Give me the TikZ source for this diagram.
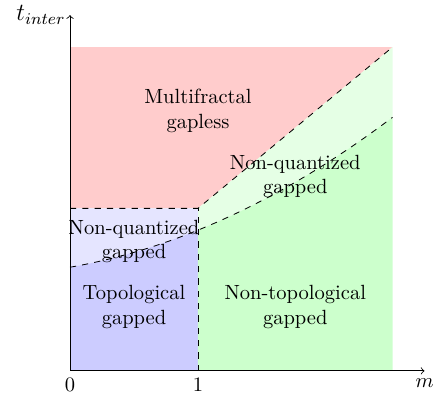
\documentclass[tikz,border=0pt]{standalone}
\usepackage{amsmath}
\usepackage{amssymb}
\usepackage{tikz}
\usetikzlibrary{calc}
\usepackage{xcolor}

\begin{document}
\begin{tikzpicture}[x=2.19cm,y=2.19cm,
  fase/.style={align=center},
  fronteira/.style={dashed}]
\useasboundingbox (-0.547,-0.195) rectangle (2.844,2.898);
% Regioes
\fill[red!20] (0,1.27) -- (1,1.27) -- (2.52,2.53) -- (0,2.53) -- cycle;
\fill[green!10] (1,1.27) -- (2.52,2.53) -- (2.52,1.98)
  -- plot[domain=2.52:1,samples=40] (\x,{0.81+0.175*\x+0.115*\x*\x}) -- cycle;
\fill[blue!10] (0,1.27) -- (1,1.27)
  -- plot[domain=1:0,samples=20] (\x,{0.81+0.175*\x+0.115*\x*\x}) -- cycle;
\fill[blue!20] plot[domain=0:1,samples=20] (\x,{0.81+0.175*\x+0.115*\x*\x})
  -- (1,0) -- (0,0) -- cycle;
\fill[green!20] plot[domain=1:2.52,samples=40] (\x,{0.81+0.175*\x+0.115*\x*\x})
  -- (2.52,0) -- (1,0) -- cycle;
% Fronteiras
\draw[fronteira] (0,1.27) -- (1,1.27) -- (2.52,2.53);
\draw[fronteira] (1,0) -- (1,1.27);
\draw[fronteira] plot[domain=0:2.52,samples=60] (\x,{0.81+0.175*\x+0.115*\x*\x});
% Eixos
\draw[->] (0,0) -- (2.77,0) node[below] (mlab) {$m$};
\draw[->] (0,0) -- (0,2.78) node[left,font=\large,inner sep=2pt] (tlab) {$t_{inter}$};
\node[below] (zero) at (0,0) {0};
\node[below] (one) at (1,0) {1};
% Fases
\node[fase] (multi) at (1.0,2.03) {Multifractal\\gapless};
\node[fase] (nqleft) at (0.5,1.01) {Non-quantized\\gapped};
\node[fase] (nqright) at (1.76,1.52) {Non-quantized\\gapped};
\node[fase] (topo) at (0.5,0.5) {Topological\\gapped};
\node[fase] (nontopo) at (1.76,0.5) {Non-topological\\gapped};
\end{tikzpicture}
\end{document}
